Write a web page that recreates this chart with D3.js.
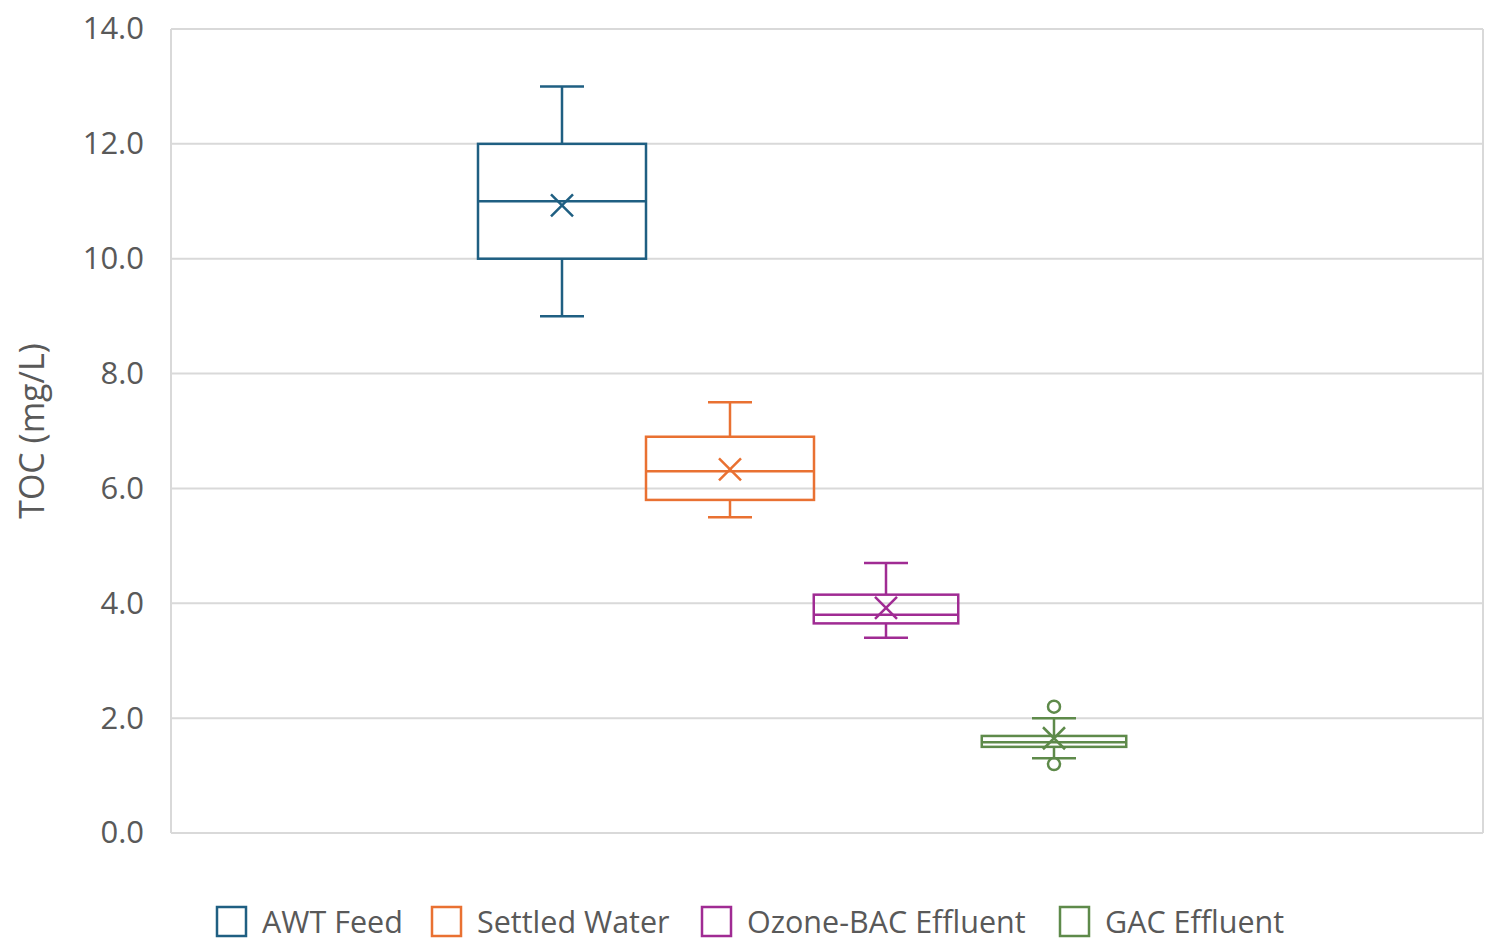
<!DOCTYPE html>
<html><head><meta charset="utf-8">
<script src="https://cdn.jsdelivr.net/npm/d3@7"></script>
<style>body{margin:0;background:#fff;font-family:"Open Sans","Liberation Sans",sans-serif;}</style>
</head><body><div class="chart"></div>
<script>
const series = ["AWT Feed", "Settled Water", "Ozone-BAC Effluent", "GAC Effluent"];
const colors = ["#1F5F82", "#E97132", "#A02B93", "#5E8A4A"];
const q1 = [10.0, 5.8, 3.65, 1.50];
const median = [11.0, 6.3, 3.8, 1.58];
const q3 = [12.0, 6.9, 4.15, 1.69];
const whiskLow = [9.0, 5.5, 3.4, 1.3];
const whiskHigh = [13.0, 7.5, 4.7, 2.0];
const means = [10.93, 6.33, 3.92, 1.65];
const outliers = [[], [], [], [2.2, 1.2]];
const yTicks = [0, 2, 4, 6, 8, 10, 12, 14];

const W = 1501, H = 952;
const margin = {top: 29, right: 18, bottom: 119, left: 171};
const width = W - margin.left - margin.right, height = H - margin.top - margin.bottom;

const svg = d3.select(".chart").append("svg").attr("width", W).attr("height", H);
const g = svg.append("g").attr("transform", `translate(${margin.left},${margin.top})`);

const y = d3.scaleLinear().domain([0, 14]).range([height, 0]);
const x = d3.scaleBand().domain(series).range([307, 979]);

// gridlines
g.selectAll(".grid").data(yTicks).enter().append("line")
  .attr("x1", 0).attr("x2", width).attr("y1", d => y(d)).attr("y2", d => y(d))
  .attr("stroke", "#d9d9d9").attr("stroke-width", 2);
g.append("line").attr("x1", 0).attr("x2", 0).attr("y1", 0).attr("y2", height).attr("stroke", "#d9d9d9").attr("stroke-width", 2);
g.append("line").attr("x1", width).attr("x2", width).attr("y1", 0).attr("y2", height).attr("stroke", "#d9d9d9").attr("stroke-width", 2);

const yAxis = d3.axisLeft(y).tickValues(yTicks).tickFormat(d3.format(".1f")).tickSize(0).tickPadding(27);
g.append("g").call(yAxis).call(a => a.select(".domain").remove())
  .selectAll("text").attr("font-size", 31).attr("fill", "#595959").attr("font-family", "Open Sans, sans-serif");

svg.append("text").attr("transform", `translate(44,${margin.top + height / 2}) rotate(-90)`)
  .attr("text-anchor", "middle").attr("font-size", 34).attr("fill", "#595959").text("TOC (mg/L)");

series.forEach((s, i) => {
  const c = colors[i];
  const bw = i < 2 ? x.bandwidth() : x.bandwidth() * 0.86;
  const cx = x(s) + x.bandwidth() / 2 - (i < 2 ? 0 : 12);
  const bg = g.append("g").attr("stroke", c).attr("stroke-width", 2.5).attr("fill", "none");
  bg.append("line").attr("x1", cx).attr("x2", cx).attr("y1", y(whiskHigh[i])).attr("y2", y(q3[i]));
  bg.append("line").attr("x1", cx).attr("x2", cx).attr("y1", y(q1[i])).attr("y2", y(whiskLow[i]));
  [whiskHigh[i], whiskLow[i]].forEach(v => bg.append("line")
    .attr("x1", cx - 22).attr("x2", cx + 22).attr("y1", y(v)).attr("y2", y(v)));
  bg.append("rect").attr("x", cx - bw / 2).attr("width", bw)
    .attr("y", y(q3[i])).attr("height", y(q1[i]) - y(q3[i]));
  bg.append("line").attr("x1", cx - bw / 2).attr("x2", cx + bw / 2).attr("y1", y(median[i])).attr("y2", y(median[i]));
  const my = y(means[i]), k = 11;
  bg.append("path").attr("d", `M${cx - k},${my - k}L${cx + k},${my + k}M${cx - k},${my + k}L${cx + k},${my - k}`);
  outliers[i].forEach(v => bg.append("circle").attr("cx", cx).attr("cy", y(v)).attr("r", 6));
});

// legend
const legendX = [217, 432, 702, 1060];
const lg = svg.append("g");
series.forEach((s, i) => {
  lg.append("rect").attr("x", legendX[i]).attr("y", 907).attr("width", 29).attr("height", 29)
    .attr("fill", "none").attr("stroke", colors[i]).attr("stroke-width", 2.5);
  lg.append("text").attr("x", legendX[i] + 45).attr("y", 933).attr("font-size", 30.5)
    .attr("fill", "#595959").text(s);
});
</script></body></html>
